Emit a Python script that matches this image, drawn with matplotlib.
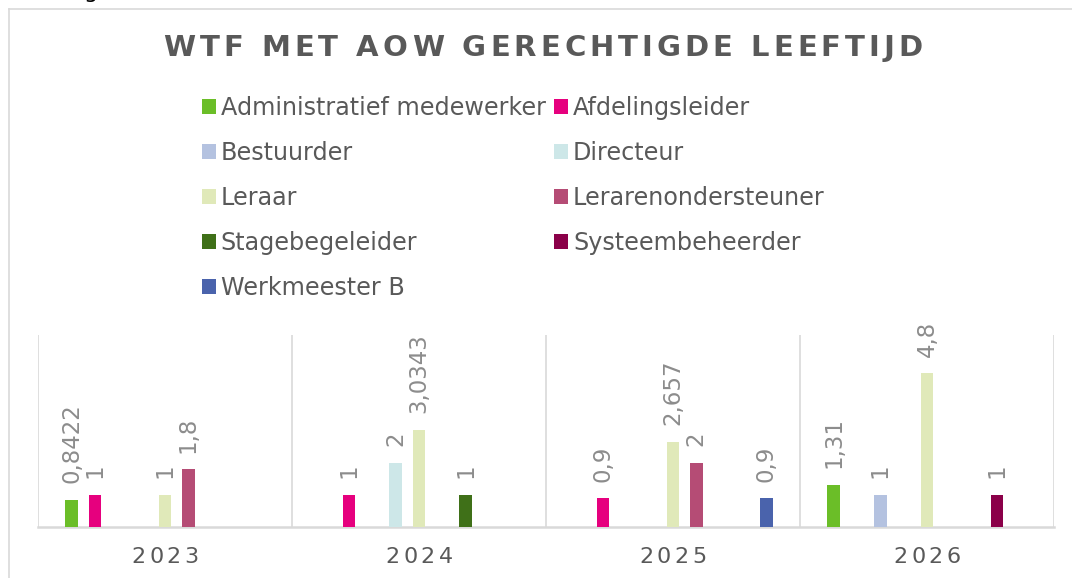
import numpy as np
import matplotlib
matplotlib.use('Agg')
import matplotlib.pyplot as plt
from matplotlib.patches import Patch
from matplotlib.lines import Line2D

nan = np.nan
#----------------------- data ---------------------------------
years = ['2023', '2024', '2025', '2026']
roles = ['Administratief medewerker', 'Afdelingsleider', 'Bestuurder', 'Directeur',
         'Leraar', 'Lerarenondersteuner', 'Stagebegeleider', 'Systeembeheerder',
         'Werkmeester B']
adm    = [0.8422, nan, nan, 1.31]
afd    = [1, 1, 0.9, nan]
best   = [nan, nan, nan, 1]
direc  = [nan, 2, nan, nan]
leraar = [1, 3.0343, 2.657, 4.8]
lerond = [1.8, nan, 2, nan]
stage  = [nan, 1, nan, nan]
syst   = [nan, nan, nan, 1]
werk   = [nan, nan, 0.9, nan]
series = [adm, afd, best, direc, leraar, lerond, stage, syst, werk]
colors = ['#6BBE28', '#E6007E', '#B4C2E0', '#CDE7E8', '#E0E9B9',
          '#B54C75', '#3F7018', '#8B0049', '#4A63AC']

title = 'WTF MET AOW GERECHTIGDE LEEFTIJD'
txtcol = '#595959'
lblcol = '#8C8C8C'
gridcol = '#D9D9D9'

W, H = 1072., 578.
plt.rcParams['font.family'] = ['DejaVu Sans']
fig = plt.figure(figsize=(W/100, H/100), dpi=100)
rend = fig.canvas.get_renderer()

#----------------------- letter spaced text -------------------
def textw(s, **kw):
    t = fig.text(0, 0, s, **kw)
    w = t.get_window_extent(rend).width
    t.remove()
    return w

def spaced_text(xc, yc, s, gap, **kw):
    # xc, yc in pixels (from bottom left), gap in pixels between letters
    bar = textw('|', **kw)
    pos = [0.0]
    for k in range(1, len(s)):
        pos.append(textw(s[:k] + '|', **kw) - bar + k * gap)
    total = textw(s, **kw) + (len(s) - 1) * gap
    x0 = xc - total / 2.
    for ch, p in zip(s, pos):
        if ch == ' ':
            continue
        fig.text((x0 + p) / W, yc / H, ch, ha='left', va='center', **kw)

#----------------------- frame --------------------------------
fig.add_artist(Line2D([9/W, 1], [1-9/H, 1-9/H], color=gridcol, lw=1.2))
fig.add_artist(Line2D([9/W, 9/W], [0, 1-9/H], color=gridcol, lw=1.2))
# tail of a word above the chart, clipped by the page edge as in the source
fig.text(91/W, 1+2/H, 'g', ha='center', va='baseline', fontsize=16, color='black')

#----------------------- bars ---------------------------------
ax = fig.add_axes([38/W, 1-527/H, (1054-38)/W, (527-335)/H])
x = np.arange(len(years))
step = 0.0917
bw = 0.05
for i, vals in enumerate(series):
    off = (i - 4) * step
    v = np.array(vals, dtype=float)
    ax.bar(x + off, np.nan_to_num(v), width=bw, color=colors[i], label=roles[i], zorder=3)
    for xi, val in zip(x, v):
        if np.isnan(val):
            continue
        s = ('%g' % val).replace('.', ',')
        ax.annotate(s, (xi + off, val), xytext=(0, 12), textcoords='offset points',
                    rotation=90, ha='center', va='bottom', color=lblcol, fontsize=16.5)

ax.set_xlim(-0.5, len(years) - 0.5)
ax.set_ylim(0, 6)
ax.set_yticks([])
ax.set_xticks(x)
ax.set_xticklabels([])
ax.tick_params(axis='x', length=0)
for b in np.arange(-0.5, len(years), 1.0):
    ax.axvline(b, color=gridcol, lw=1.2, zorder=1)
for sp in ['top', 'right', 'left']:
    ax.spines[sp].set_visible(False)
ax.spines['bottom'].set_color(gridcol)
ax.spines['bottom'].set_linewidth(1.8)

# category labels, letter spaced
for xi, yr in zip(x, years):
    px = ax.transData.transform((xi, 0))[0]
    spaced_text(px, H - 557, yr, 3.5, fontsize=16, color=txtcol)

#----------------------- title & legend -----------------------
spaced_text(543, H - 48, title, 4, fontsize=21, fontweight='bold', color=txtcol)

handles = [Patch(facecolor=c, edgecolor='none') for c in colors]
order = [0, 2, 4, 6, 8, 1, 3, 5, 7]
leg = fig.legend([handles[k] for k in order], [roles[k] for k in order], ncol=2,
                 loc='upper left', bbox_to_anchor=(202/W, 1-96/H), frameon=False,
                 fontsize=17.2, handlelength=0.57, handleheight=0.55, handletextpad=0.22,
                 columnspacing=0.35, labelspacing=0.88, borderpad=0, borderaxespad=0)
for t in leg.get_texts():
    t.set_color(txtcol)

fig.savefig('out.png', dpi=100)
